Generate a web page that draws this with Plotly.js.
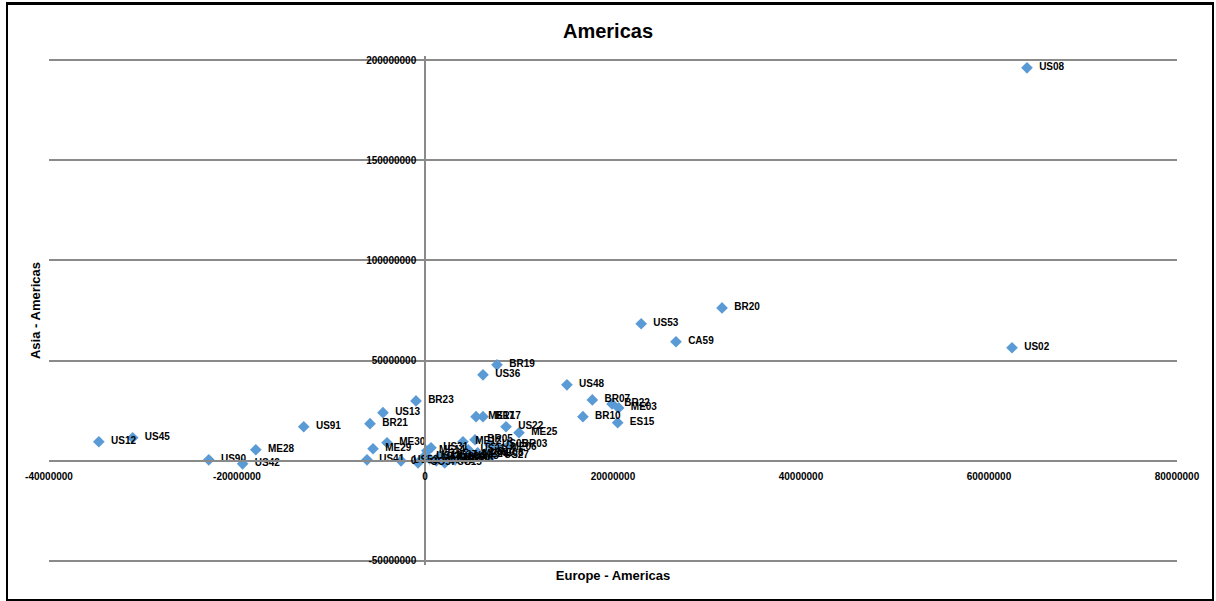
<!DOCTYPE html>
<html>
<head>
<meta charset="utf-8">
<script src="https://cdn.plot.ly/plotly-3.0.1.min.js"></script>
<style>
  html, body { margin: 0; padding: 0; background: #fff; }
  #wrap { position: relative; width: 1216px; height: 601px; }
  #chart { width: 1216px; height: 601px; }
  #frame { position: absolute; left: 6px; top: 2px; width: 1208px; height: 599px;
           box-sizing: border-box; border: 2px solid #000; border-top-width: 3px; pointer-events: none; }
</style>
</head>
<body>
<div id="wrap">
  <div id="chart"></div>
  <div id="frame"></div>
</div>
<script>
// ---- data ----
const pointLabels = [
  "US08","US02","BR20","US53","CA59","BR19","US36","US48","BR07","BR22",
  "ME03","BR10","ES15","ME17","BR17","US22","ME25","BR23","US13","BR21",
  "US91","US12","US45","US90","US42","ME28","ME29","ME30","US41","US52",
  "CO57","ME14","US31","ME12","BR05","US05","ME06","US37","US39","CO56",
  "US43","ME24","US10","ME08","US27","CA58","US15","US60","ME27","US18",
  "US21","BR03"
];
const europeMinusAmericas = [
  64040000, 62450000, 31600000, 23000000, 26700000, 7660000, 6170000, 15100000, 17800000, 19900000,
  20600000, 16800000, 20500000, 5430000, 6170000, 8620000, 10000000, -960000, -4470000, -5850000,
  -12900000, -34700000, -31100000, -23000000, -19400000, -18000000, -5530000, -4040000, -6170000, -2550000,
  -740000, 200000, 640000, 4040000, 5320000, 6900000, 7800000, 1600000, 2450000, 3200000,
  3900000, 4800000, 5600000, 6400000, 7100000, 1200000, 2100000, 2900000, 500000, -100000,
  4600000, 9000000
];
const asiaMinusAmericas = [
  196100000, 56400000, 76300000, 68400000, 59400000, 47900000, 42900000, 37900000, 30400000, 28400000,
  26400000, 22000000, 19000000, 22000000, 22000000, 17000000, 14000000, 29900000, 24000000, 18500000,
  17000000, 9500000, 11500000, 500000, -1500000, 5500000, 6000000, 9000000, 500000, 0,
  -1000000, 5000000, 6500000, 9500000, 10500000, 8000000, 6500000, 2500000, 1500000, 500000,
  2000000, 3000000, 4000000, 3500000, 2500000, 0, -1000000, 1000000, 1000000, 2000000,
  5500000, 8000000
];
const xTickVals = [-40000000, -20000000, 0, 20000000, 40000000, 60000000, 80000000];
const xTickText = ["-40000000", "-20000000", "0", "20000000", "40000000", "60000000", "80000000"];
const yTickVals = [-50000000, 0, 50000000, 100000000, 150000000, 200000000];
const yTickText = ["-50000000", "0", "50000000", "100000000", "150000000", "200000000"];
const xRange = [-40000000, 80000000];
const yRange = [-52000000, 202000000];

const FONT = "Liberation Sans, Arial, sans-serif";
const GRID = "#8a8a8a";

const trace = {
  type: "scatter",
  mode: "markers+text",
  x: europeMinusAmericas,
  y: asiaMinusAmericas,
  text: pointLabels.map(s => "\u00a0\u00a0" + s),
  textposition: "middle right",
  textfont: { family: FONT, size: 10, color: "#000", weight: "bold" },
  marker: { symbol: "diamond", size: 9, color: "#5b9bd5" },
  cliponaxis: false,
  hoverinfo: "x+y+text",
  xaxis: "x",
  yaxis: "y"
};

// carrier for the overlaid axes that hold the tick labels (no marks of its own)
const axisCarrier = {
  type: "scatter", mode: "markers", x: [], y: [],
  xaxis: "x2", yaxis: "y2", hoverinfo: "skip", showlegend: false
};

const layout = {
  width: 1216,
  height: 601,
  margin: { l: 49, r: 39, t: 56, b: 36 },
  paper_bgcolor: "#fff",
  plot_bgcolor: "#fff",
  showlegend: false,
  title: {
    text: "Americas",
    font: { family: FONT, size: 20, color: "#000", weight: "bold" },
    x: 0.5, xanchor: "center",
    y: 1 - 31 / 601, yanchor: "middle"
  },
  xaxis: {
    range: xRange,
    showgrid: false, zeroline: false, showline: false, showticklabels: false, ticks: "",
    automargin: false,
    title: { text: "Europe - Americas", standoff: 5,
             font: { family: FONT, size: 13, color: "#000", weight: "bold" } }
  },
  yaxis: {
    range: yRange,
    tickvals: yTickVals,
    showgrid: true, gridcolor: GRID, gridwidth: 1.5,
    zeroline: false, showline: false, showticklabels: false, ticks: "",
    automargin: false,
    title: { text: "Asia - Americas", standoff: 4,
             font: { family: FONT, size: 13, color: "#000", weight: "bold" } }
  },
  xaxis2: {
    overlaying: "x", anchor: "free", position: 52000000 / 254000000,
    range: xRange,
    tickvals: xTickVals, ticktext: xTickText,
    showgrid: false, zeroline: false,
    showline: true, linecolor: GRID, linewidth: 1.5,
    ticks: "", ticklabelstandoff: 6,
    tickfont: { family: FONT, size: 10, color: "#000", weight: "bold" },
    automargin: false
  },
  yaxis2: {
    overlaying: "y", anchor: "free", position: 1 / 3,
    range: yRange,
    tickvals: yTickVals, ticktext: yTickText,
    showgrid: false, zeroline: false,
    showline: true, linecolor: GRID, linewidth: 1.5,
    ticks: "", ticklabelstandoff: 6,
    tickfont: { family: FONT, size: 10, color: "#000", weight: "bold" },
    automargin: false
  }
};

Plotly.newPlot("chart", [axisCarrier, trace], layout, { displayModeBar: false });
</script>
</body>
</html>
